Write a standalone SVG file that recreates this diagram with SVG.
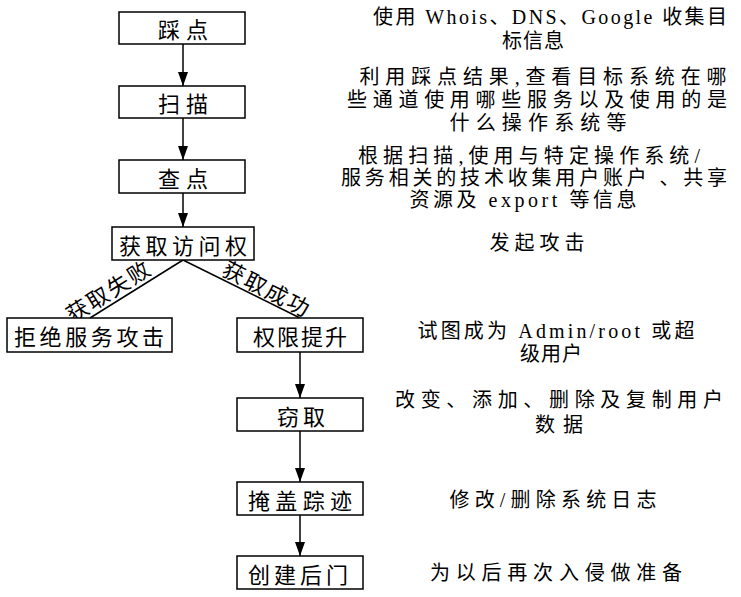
<svg xmlns="http://www.w3.org/2000/svg" width="741" height="597" viewBox="0 0 741 597">
<defs>
<marker id="ah" markerWidth="14" markerHeight="10" refX="14" refY="5" orient="auto" markerUnits="userSpaceOnUse" viewBox="0 0 14 10">
<path d="M0,0 L14,5 L0,10 Z" fill="#000"/>
</marker>
<style>
.box{fill:#fff;stroke:#000;stroke-width:1.5}
.bt{font-family:"Noto Sans CJK SC","Liberation Sans",sans-serif;font-size:22px;fill:#000;text-anchor:middle;dominant-baseline:central}
.rt{font-family:"Liberation Serif","Noto Sans CJK SC",serif;font-size:20px;fill:#000;text-anchor:middle;dominant-baseline:central}
.ln{stroke:#000;stroke-width:1.5;fill:none}
</style>
</defs>
<rect width="741" height="597" fill="#fff"/>
<g id="connectors">
<line class="ln" x1="183" y1="44" x2="183" y2="86" marker-end="url(#ah)"/>
<line class="ln" x1="183" y1="118" x2="183" y2="160" marker-end="url(#ah)"/>
<line class="ln" x1="183" y1="193" x2="183" y2="227" marker-end="url(#ah)"/>
<line class="ln" x1="183" y1="260" x2="90" y2="318"/>
<line class="ln" x1="183" y1="260" x2="300" y2="318"/>
<line class="ln" x1="300" y1="352" x2="300" y2="398" marker-end="url(#ah)"/>
<line class="ln" x1="300" y1="431" x2="300" y2="482" marker-end="url(#ah)"/>
<line class="ln" x1="300" y1="515" x2="300" y2="556" marker-end="url(#ah)"/>
<text class="bt" transform="translate(107,290) rotate(-32)" textLength="94">获取失败</text>
<text class="bt" transform="translate(267,287) rotate(27)" textLength="94">获取成功</text>
</g>
<g id="n1"><rect class="box" x="119" y="12" width="126" height="32"/><text class="bt" x="183" y="28" textLength="50">踩点</text></g>
<g id="n2"><rect class="box" x="119" y="86" width="126" height="32"/><text class="bt" x="183" y="102" textLength="50">扫描</text></g>
<g id="n3"><rect class="box" x="119" y="160" width="126" height="33"/><text class="bt" x="183" y="177" textLength="50">查点</text></g>
<g id="n4"><rect class="box" x="112" y="227" width="142" height="33"/><text class="bt" x="183" y="244" textLength="128">获取访问权</text></g>
<g id="n5"><rect class="box" x="7" y="318" width="165" height="34"/><text class="bt" x="89" y="335" textLength="150">拒绝服务攻击</text></g>
<g id="n6"><rect class="box" x="237" y="318" width="126" height="34"/><text class="bt" x="300" y="335" textLength="94">权限提升</text></g>
<g id="n7"><rect class="box" x="237" y="398" width="126" height="33"/><text class="bt" x="301" y="415" textLength="48">窃取</text></g>
<g id="n8"><rect class="box" x="237" y="482" width="126" height="33"/><text class="bt" x="300" y="499" textLength="104">掩盖踪迹</text></g>
<g id="n9"><rect class="box" x="237" y="556" width="126" height="33"/><text class="bt" x="298" y="573" textLength="100">创建后门</text></g>
<g id="notes">
<text class="rt" x="550" y="17" textLength="354">使用 Whois、DNS、Google 收集目</text>
<text class="rt" x="533" y="41" textLength="62">标信息</text>
<text class="rt" x="543" y="77" textLength="367">利用踩点结果,查看目标系统在哪</text>
<text class="rt" x="537" y="100" textLength="380">些通道使用哪些服务以及使用的是</text>
<text class="rt" x="538" y="123" textLength="177">什么操作系统等</text>
<text class="rt" x="529" y="156" textLength="342">根据扫描,使用与特定操作系统/</text>
<text class="rt" x="534" y="178" textLength="386">服务相关的技术收集用户账户 、共享</text>
<text class="rt" x="523" y="200" textLength="227">资源及 export 等信息</text>
<text class="rt" x="537" y="243" textLength="95">发起攻击</text>
<text class="rt" x="556" y="331" textLength="277">试图成为 Admin/root 或超</text>
<text class="rt" x="551" y="354" textLength="62">级用户</text>
<text class="rt" x="559" y="400" textLength="328">改变、添加、删除及复制用户</text>
<text class="rt" x="559" y="425" textLength="48">数据</text>
<text class="rt" x="553" y="500" textLength="207">修改/删除系统日志</text>
<text class="rt" x="556" y="573" textLength="252">为以后再次入侵做准备</text>
</g>
</svg>
